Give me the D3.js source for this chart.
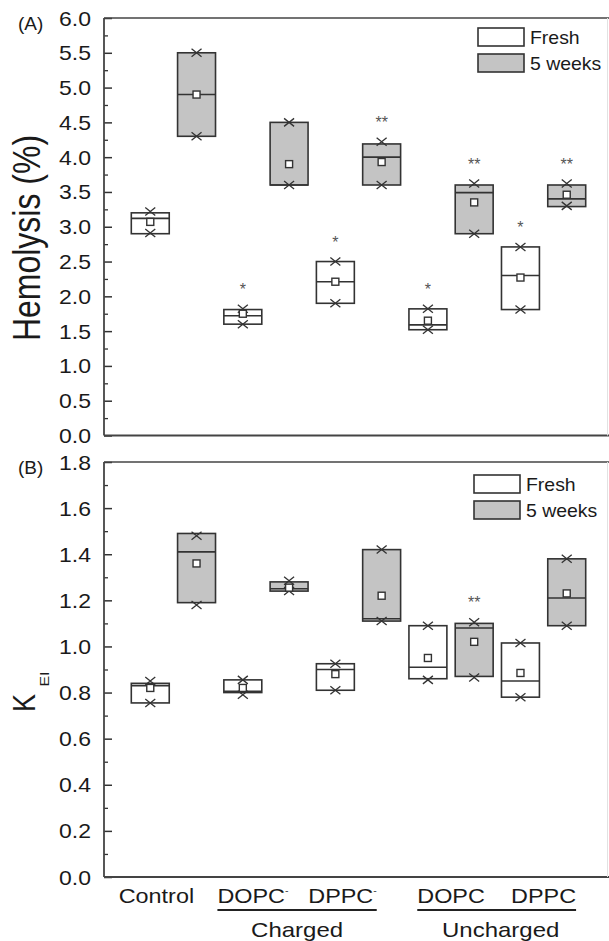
<!DOCTYPE html>
<html>
<head>
<meta charset="utf-8">
<script src="https://cdn.jsdelivr.net/npm/d3@7"></script>
<style>
body { margin:0; background:#fff; }
svg text { font-family:"Liberation Sans", Arial, sans-serif; fill:#1a1a1a; }
</style>
</head>
<body>
<svg id="chart" width="609" height="941"></svg>
<script>
// categories along the x axis
var categories = ['Control', 'DOPC', 'DPPC', 'DOPC', 'DPPC'];
var charges = ['', '-', '-', '', ''];
var groupNames = ['Charged', 'Uncharged'];
var groupMembers = [[1, 2], [3, 4]];
var seriesNames = ['Fresh', '5 weeks'];

// rows: [box low, median, box high, mean, lowest point, highest point]
var hemoFresh = [
	[2.90, 3.12, 3.20, 3.07, 2.91, 3.22],
	[1.60, 1.72, 1.81, 1.75, 1.60, 1.82],
	[1.90, 2.21, 2.50, 2.21, 1.90, 2.50],
	[1.52, 1.59, 1.82, 1.65, 1.52, 1.82],
	[1.81, 2.30, 2.71, 2.27, 1.81, 2.71]
];
var hemoWeeks = [
	[4.30, 4.90, 5.50, 4.90, 4.30, 5.50],
	[3.60, 3.60, 4.50, 3.90, 3.60, 4.50],
	[3.60, 4.00, 4.19, 3.93, 3.60, 4.22],
	[2.90, 3.49, 3.60, 3.35, 2.90, 3.62],
	[3.29, 3.40, 3.60, 3.46, 3.30, 3.62]
];
var hemoFreshStars = ['', '*', '*', '*', '*'];
var hemoWeeksStars = ['', '', '**', '**', '**'];

var keiFresh = [
	[0.755, 0.83, 0.84, 0.82, 0.755, 0.85],
	[0.80, 0.805, 0.855, 0.82, 0.79, 0.855],
	[0.81, 0.90, 0.925, 0.88, 0.81, 0.925],
	[0.86, 0.91, 1.09, 0.95, 0.855, 1.09],
	[0.78, 0.85, 1.015, 0.885, 0.78, 1.015]
];
var keiWeeks = [
	[1.19, 1.41, 1.49, 1.36, 1.18, 1.48],
	[1.24, 1.25, 1.28, 1.255, 1.24, 1.285],
	[1.11, 1.12, 1.42, 1.22, 1.11, 1.42],
	[0.87, 1.08, 1.10, 1.02, 0.865, 1.105],
	[1.09, 1.21, 1.38, 1.23, 1.09, 1.38]
];
var keiFreshStars = ['', '', '', '', ''];
var keiWeeksStars = ['', '', '', '**', ''];

var hemoTicks = [0, 0.5, 1, 1.5, 2, 2.5, 3, 3.5, 4, 4.5, 5, 5.5, 6];
var keiTicks = [0, 0.2, 0.4, 0.6, 0.8, 1.0, 1.2, 1.4, 1.6, 1.8];

var svg = d3.select('#chart');
var ink = '#333';
var fills = ['#ffffff', '#c4c4c4'];
var sx = 1.15; // the figure text is stretched sideways

var x = d3.scaleLinear().domain([0, 11]).range([104, 613]);
var boxW = x(0.41) - x(-0.41);

function drawPanel(cfg) {
	var y = d3.scaleLinear().domain([0, cfg.max]).range([cfg.bottom, cfg.top]);
	var g = svg.append('g');

	// minor + major ticks, pointing into the plot
	var minorAxis = d3.axisLeft(y).tickValues(d3.range(cfg.step / 2, cfg.max, cfg.step))
		.tickSizeInner(-4).tickSizeOuter(0).tickFormat('');
	var gm = g.append('g').attr('transform', 'translate(104,0)').call(minorAxis);
	gm.select('.domain').remove();
	gm.selectAll('line').attr('stroke', ink).attr('stroke-width', 1.3);

	var majorAxis = d3.axisLeft(y).tickValues(cfg.ticks)
		.tickSizeInner(-8).tickSizeOuter(0).tickFormat(d3.format('.1f'));
	var ga = g.append('g').attr('transform', 'translate(104,0)').call(majorAxis);
	ga.select('.domain').remove();
	ga.selectAll('line').attr('stroke', ink).attr('stroke-width', 1.5);
	ga.selectAll('text')
		.attr('x', null).attr('dy', null)
		.attr('transform', 'translate(-13,7) scale(' + sx + ',1)')
		.attr('text-anchor', 'end')
		.style('font-size', '20px').style('fill', '#1a1a1a');

	// frame
	g.append('line').attr('x1', 104).attr('x2', 609).attr('y1', cfg.top).attr('y2', cfg.top)
		.attr('stroke', '#444').attr('stroke-width', 1.6);
	g.append('line').attr('x1', 104).attr('x2', 609).attr('y1', cfg.bottom).attr('y2', cfg.bottom)
		.attr('stroke', '#444').attr('stroke-width', 2);
	g.append('line').attr('x1', 104).attr('x2', 104).attr('y1', cfg.top).attr('y2', cfg.bottom)
		.attr('stroke', '#444').attr('stroke-width', 1.8);
	g.append('line').attr('x1', 607.5).attr('x2', 607.5).attr('y1', cfg.top).attr('y2', cfg.bottom)
		.attr('stroke', '#e2e2e2').attr('stroke-width', 1);

	// boxes, one series at a time
	cfg.series.forEach(function(s, si) {
		s.rows.forEach(function(r, ci) {
			var cx = x(2 * ci + 1 + si);
			var b = g.append('g');
			b.append('rect')
				.attr('x', cx - boxW / 2).attr('y', y(r[2]))
				.attr('width', boxW).attr('height', y(r[0]) - y(r[2]))
				.attr('fill', fills[si]).attr('stroke', ink).attr('stroke-width', 1.6);
			b.append('line')
				.attr('x1', cx - boxW / 2).attr('x2', cx + boxW / 2)
				.attr('y1', y(r[1])).attr('y2', y(r[1]))
				.attr('stroke', ink).attr('stroke-width', 1.6);
			[r[4], r[5]].forEach(function(v) {
				b.append('path')
					.attr('d', 'M' + (cx - 5) + ',' + (y(v) - 4) + 'L' + (cx + 5) + ',' + (y(v) + 4) +
						'M' + (cx - 5) + ',' + (y(v) + 4) + 'L' + (cx + 5) + ',' + (y(v) - 4))
					.attr('stroke', ink).attr('stroke-width', 1.3).attr('fill', 'none');
			});
			b.append('rect')
				.attr('x', cx - 3.5).attr('y', y(r[3]) - 3.5)
				.attr('width', 7).attr('height', 7)
				.attr('fill', '#fff').attr('stroke', ink).attr('stroke-width', 1.4);
			if (s.stars[ci]) {
				b.append('text')
					.attr('x', cx).attr('y', y(r[5]) - 14)
					.attr('text-anchor', 'middle')
					.style('font-size', '16px').style('fill', '#555')
					.text(s.stars[ci]);
			}
		});
	});

	// legend
	seriesNames.forEach(function(name, si) {
		var ly = cfg.legendY + si * 26;
		g.append('rect').attr('x', cfg.legendX).attr('y', ly)
			.attr('width', 46).attr('height', 18)
			.attr('fill', fills[si]).attr('stroke', ink).attr('stroke-width', 1.6);
		g.append('text')
			.attr('transform', 'translate(' + (cfg.legendX + 52) + ',' + (ly + 16) + ') scale(1.08,1)')
			.style('font-size', '18px')
			.text(name);
	});

	g.append('text').attr('x', 18).attr('y', cfg.top + 12)
		.style('font-size', '19px').text(cfg.letter);
	return y;
}

drawPanel({
	max: 6, step: 0.5, ticks: hemoTicks, top: 18, bottom: 435.5,
	series: [{rows: hemoFresh, stars: hemoFreshStars}, {rows: hemoWeeks, stars: hemoWeeksStars}],
	legendX: 478, legendY: 28, letter: '(A)'
});
drawPanel({
	max: 1.8, step: 0.2, ticks: keiTicks, top: 462, bottom: 877,
	series: [{rows: keiFresh, stars: keiFreshStars}, {rows: keiWeeks, stars: keiWeeksStars}],
	legendX: 474, legendY: 475, letter: '(B)'
});

// axis titles
svg.append('text')
	.attr('transform', 'translate(40,238) scale(1.19,1) rotate(-90)')
	.attr('text-anchor', 'middle')
	.style('font-size', '32px')
	.text('Hemolysis (%)');
svg.append('text')
	.attr('transform', 'translate(35,703) scale(1.19,1) rotate(-90)')
	.attr('text-anchor', 'middle')
	.style('font-size', '27px')
	.text('K');
svg.append('text')
	.attr('transform', 'translate(49,679) scale(1.19,1) rotate(-90)')
	.attr('text-anchor', 'middle')
	.attr('textLength', 15).attr('lengthAdjust', 'spacingAndGlyphs')
	.style('font-size', '11px')
	.text('EI');

// category labels under the lower panel
var labelShift = [-17, -13, -16, 0, 0];
var labelEdges = [];
categories.forEach(function(c, ci) {
	var cx = (x(2 * ci + 1) + x(2 * ci + 2)) / 2 + labelShift[ci];
	var t = svg.append('text')
		.attr('transform', 'translate(' + cx + ',903) scale(1.17,1)')
		.attr('text-anchor', 'middle')
		.style('font-size', '20px');
	t.append('tspan').text(c);
	if (charges[ci]) {
		t.append('tspan').attr('dy', -9).style('font-size', '9px').text(charges[ci]);
	}
	var w = t.node().getComputedTextLength() * 1.17;
	labelEdges.push([cx - w / 2, cx + w / 2]);
});

groupMembers.forEach(function(m, gi) {
	var x1 = labelEdges[m[0]][0], x2 = labelEdges[m[m.length - 1]][1];
	svg.append('line').attr('x1', x1).attr('x2', x2).attr('y1', 910).attr('y2', 910)
		.attr('stroke', '#222').attr('stroke-width', 2);
	svg.append('text')
		.attr('transform', 'translate(' + ((x1 + x2) / 2 + 4 * gi) + ',937) scale(1.2,1)')
		.attr('text-anchor', 'middle')
		.style('font-size', '20px')
		.text(groupNames[gi]);
});
</script>
</body>
</html>
